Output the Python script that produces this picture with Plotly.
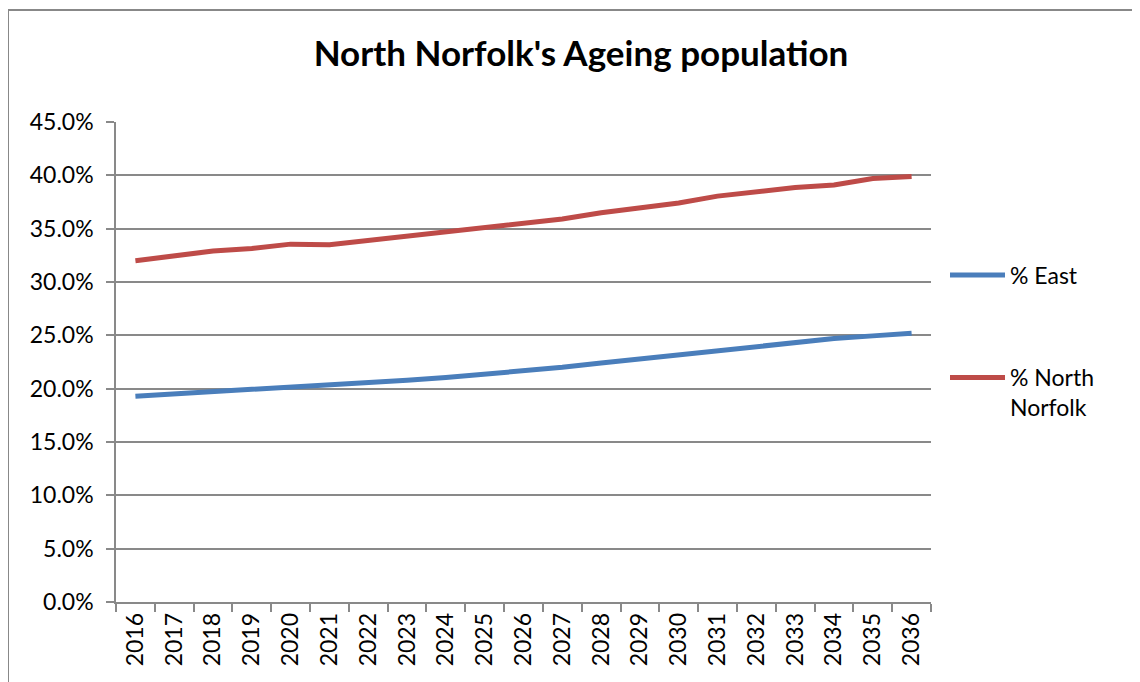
import plotly.graph_objects as go

years = [str(y) for y in range(2016, 2037)]
pct_east = [19.3, 19.5, 19.7, 19.9, 20.1, 20.3, 20.55, 20.8, 21.05, 21.35, 21.65,
            22.0, 22.4, 22.8, 23.2, 23.6, 24.0, 24.35, 24.7, 24.95, 25.2]
pct_north_norfolk = [32.0, 32.5, 32.9, 33.15, 33.55, 33.5, 33.9, 34.3, 34.7, 35.2, 35.5,
                     35.9, 36.5, 37.0, 37.4, 38.05, 38.45, 38.85, 39.1, 39.7, 39.9]
y_ticks = [0, 5, 10, 15, 20, 25, 30, 35, 40, 45]
y_tick_labels = [f"{v:.1f}%" for v in y_ticks]

FONT = "Lato"
GRID = "#898989"
OFF = 8  # page body margin

fig = go.Figure()
fig.add_trace(go.Scatter(
    x=years, y=[v / 100 for v in pct_east], mode="lines", name="% East",
    line=dict(color="#4A7EBB", width=5), legend="legend", showlegend=True))
fig.add_trace(go.Scatter(
    x=years, y=[v / 100 for v in pct_north_norfolk], mode="lines", name="% North<br>Norfolk",
    line=dict(color="#BE4B48", width=5), legend="legend2", showlegend=True))

W, H = 1140 - OFF, 682 - OFF
L, R, T, B = 116 - OFF, 1140 - 931, 122 - OFF, 682 - 602
pw, ph = W - L - R, H - T - B

def px_x(x):
    return (x - OFF - L) / pw

def px_y(y):
    return (H - B - (y - OFF)) / ph

fig.update_layout(
    width=W, height=H,
    margin=dict(l=L, r=R, t=T, b=B),
    paper_bgcolor="white", plot_bgcolor="white",
    showlegend=True,
    font=dict(family=FONT, size=22, color="black"),
    title=dict(text="<b>North Norfolk's Ageing population</b>", x=(581 - OFF) / W, xanchor="center",
               y=1 - (54 - OFF) / H, yanchor="middle", font=dict(family=FONT, size=35, color="black")),
    xaxis=dict(type="category", range=[-0.5, 20.5], tickson="boundaries", ticks="outside",
               ticklen=8, tickcolor=GRID, tickwidth=1.5, showline=True, linecolor=GRID,
               linewidth=1.5, showgrid=False, tickangle=-90, zeroline=False,
               tickfont=dict(family=FONT, size=23)),
    yaxis=dict(range=[0, 0.45], tickvals=[v / 100 for v in y_ticks], ticktext=y_tick_labels,
               ticks="outside", ticklen=8, tickcolor=GRID, tickwidth=1.5, showline=True,
               linecolor=GRID, linewidth=1.5, showgrid=True, gridcolor=GRID, gridwidth=1.5,
               zeroline=False, tickfont=dict(family=FONT, size=23), ticklabelstandoff=8),
    legend=dict(x=px_x(945), xanchor="left", y=px_y(275), yanchor="middle", itemwidth=55,
                bgcolor="rgba(0,0,0,0)", font=dict(family=FONT, size=23), valign="top"),
    legend2=dict(x=px_x(945), xanchor="left", y=px_y(356), yanchor="top", itemwidth=55,
                 bgcolor="rgba(0,0,0,0)", font=dict(family=FONT, size=23), valign="top"),
    shapes=[dict(type="rect", xref="paper", yref="paper",
                 x0=px_x(8), x1=px_x(1170), y0=px_y(720), y1=px_y(10),
                 line=dict(color="#888888", width=2), fillcolor="rgba(0,0,0,0)", layer="below")],
)

fig.write_html("out.html")
